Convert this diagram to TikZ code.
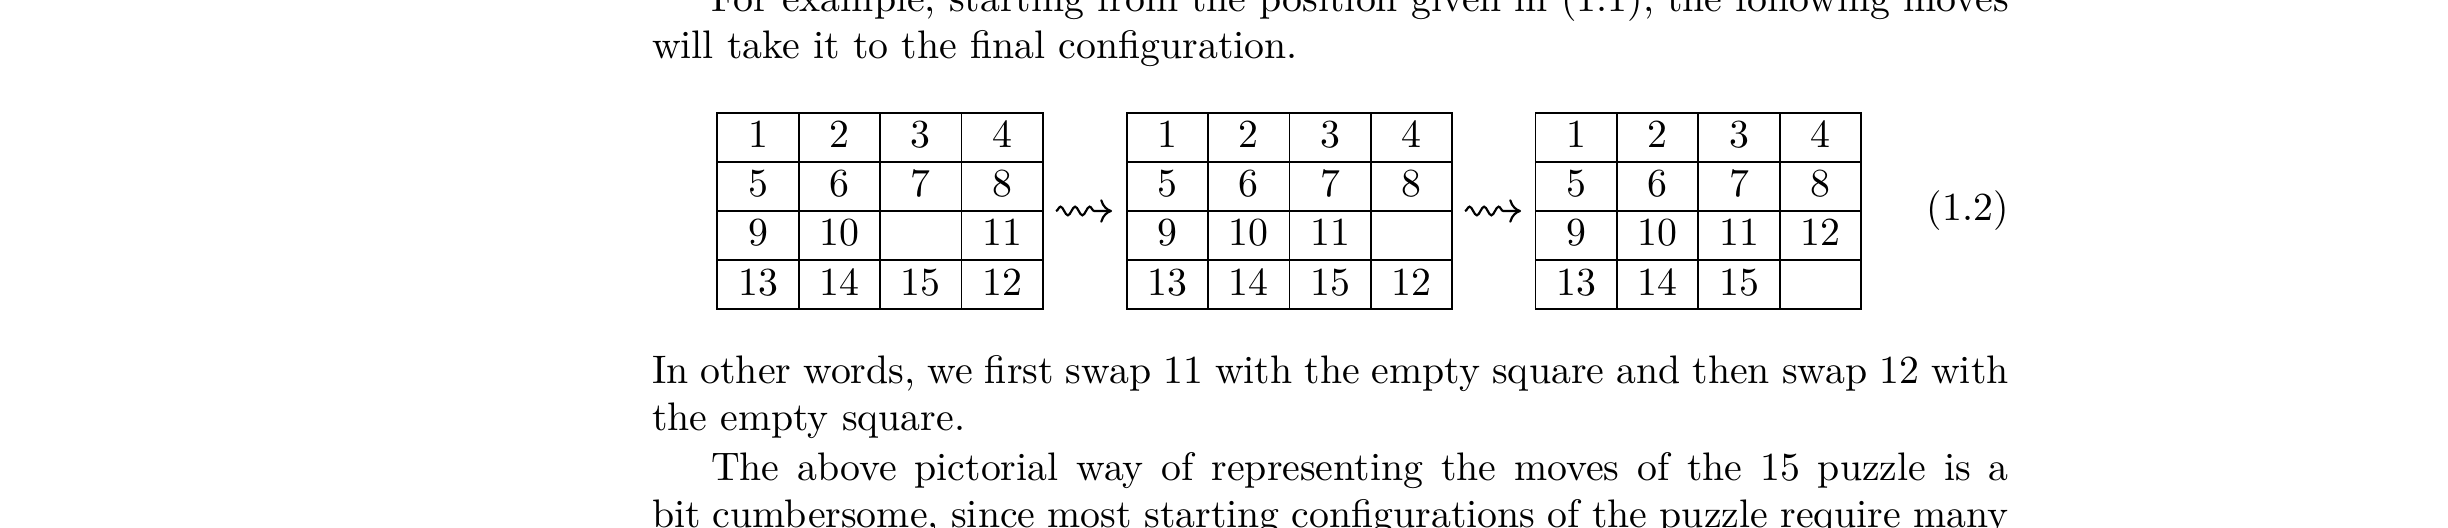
\documentclass[tikz,border=0pt]{standalone}
\usetikzlibrary{decorations.pathmorphing,arrows.meta}
\newcommand\puzgrid[3]{%
  \draw[rule] (#1,112.7) rectangle ++(325.6,196.6);
  \foreach \j in {1,2,3} {
    \draw[rule] (#1+\j*81.4,112.7) -- ++(0,196.6);
    \draw[rule] (#1,112.7+\j*49.15) -- ++(325.6,0);
  }
  \foreach \lab [count=\i from 0] in {#3} {
    \pgfmathtruncatemacro\prow{\i/4}
    \pgfmathtruncatemacro\pcol{mod(\i,4)}
    \node[num] (n#2-\i) at ({#1+(\pcol+0.5)*81.4},{112.7+(\prow+1)*49.15-14.2}) {\lab};
  }%
}
\begin{document}
\begin{tikzpicture}[x=0.2543pt,y=-0.2543pt,
  txt/.style={anchor=base west,inner sep=0pt,outer sep=0pt,font=\fontsize{10.12pt}{12pt}\selectfont},
  num/.style={anchor=base,inner sep=0pt,font=\fontsize{10.12pt}{12pt}\selectfont},
  rule/.style={line width=0.45pt},
  squig/.style={decorate,decoration={snake,amplitude=1.1pt,segment length=3.7pt,post length=3pt},
    -{To[length=3pt,width=6pt]},line width=0.55pt}]
\useasboundingbox (0,0) rectangle (2448,528);
% text above
\node[txt] (l1) at (711,11) {\makebox[330pt][s]{For example, starting from the position given in (1.1), the following moves}};
\node[txt] (l2) at (652,58.2) {will take it to the final configuration.};
% grids
\puzgrid{717.3}{1}{1,2,3,4,5,6,7,8,9,10,,11,13,14,15,12}
\puzgrid{1126.7}{2}{1,2,3,4,5,6,7,8,9,10,11,,13,14,15,12}
\puzgrid{1535.5}{3}{1,2,3,4,5,6,7,8,9,10,11,12,13,14,15,}
% arrows
\coordinate (s1) at (1056,211);
\coordinate (e1) at (1112,211);
\coordinate (s2) at (1465,211);
\coordinate (e2) at (1521,211);
\draw[squig] (s1) -- (e1);
\draw[squig] (s2) -- (e2);
% equation number
\node[txt,anchor=base east] (eq) at (2008.5,220.8) {(1.2)};
% text below
\node[txt] (l3) at (652,383) {\makebox[345pt][s]{In other words, we first swap 11 with the empty square and then swap 12 with}};
\node[txt] (l4) at (652,430.2) {the empty square.};
\node[txt] (l5) at (711,480) {\makebox[330pt][s]{The above pictorial way of representing the moves of the 15 puzzle is a}};
\node[txt] (l6) at (652,527.2) {\makebox[345pt][s]{bit cumbersome, since most starting configurations of the puzzle require many}};
\end{tikzpicture}
\end{document}
